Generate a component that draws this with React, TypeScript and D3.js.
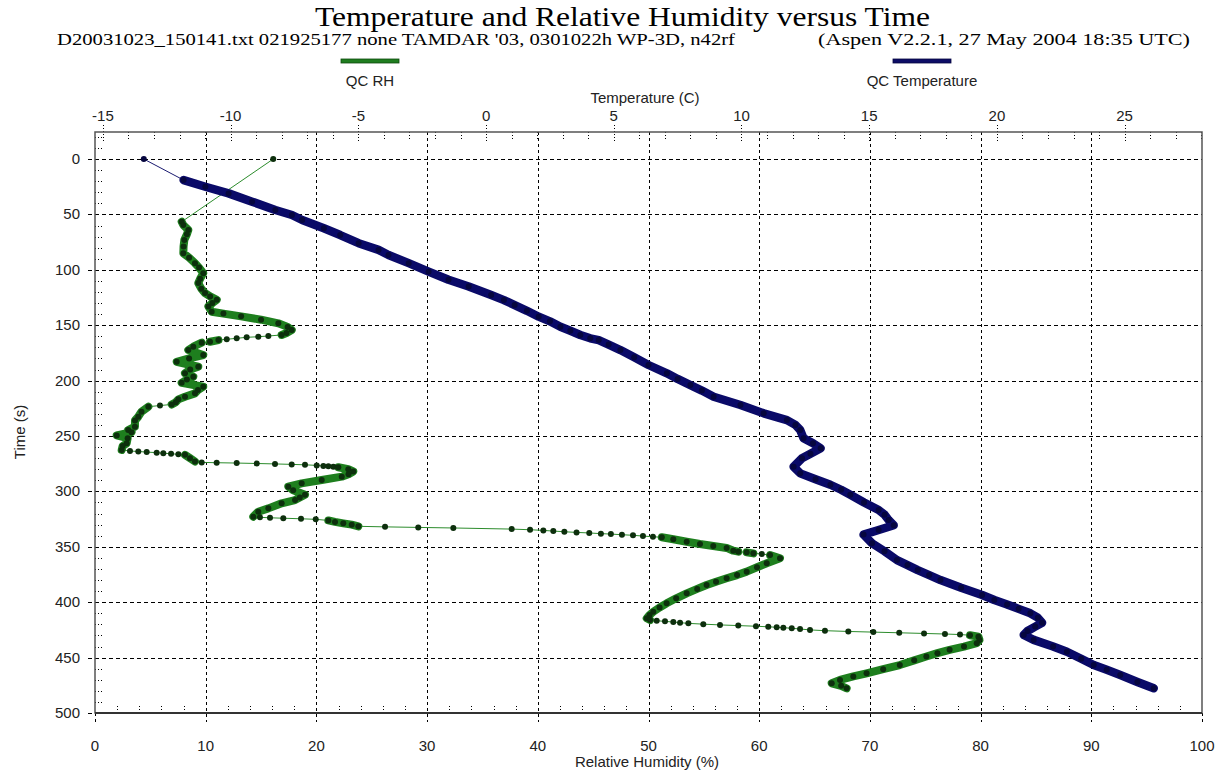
import React, { useEffect, useRef } from 'react';
import * as d3 from 'd3';

const timeTicks = [0, 50, 100, 150, 200, 250, 300, 350, 400, 450, 500];
const rhTicks = [0, 10, 20, 30, 40, 50, 60, 70, 80, 90, 100];
const tempTicks = [-15, -10, -5, 0, 5, 10, 15, 20, 25];

// [time (s), temperature (C)]
const temperature: [number, number][] = [
  [0, -13.4], [19, -11.84], [25, -10.99], [31, -10.08], [38.5, -9.16], [46, -8.25],
  [50.5, -7.6], [55, -7.2], [62.5, -6.35], [68.6, -5.71], [76, -4.99], [82, -4.21],
  [86.6, -3.82], [94, -3.03], [101.7, -2.25], [109, -1.47], [115, -0.68], [122.7, 0.2],
  [127.3, 0.7], [131.8, 1.12], [137, 1.6], [142.3, 2.06], [146.5, 2.5], [151.4, 2.91],
  [155, 3.3], [158.8, 3.69], [161.8, 4.08], [163.4, 4.41], [167.5, 4.8], [172.4, 5.26],
  [179, 5.8], [185.9, 6.36], [193.4, 7.08], [198.5, 7.5], [204, 8.0], [209, 8.45],
  [214.5, 8.91], [222, 9.96], [229.5, 10.87], [235.6, 11.78], [240, 12.11], [244.6, 12.3],
  [252, 12.43], [256.5, 12.8], [261, 13.1], [266, 12.7], [270, 12.37], [277.7, 12.04],
  [283.7, 12.3], [289, 12.9], [294, 13.48], [298.5, 13.9], [303, 14.26], [310, 14.8],
  [316.8, 15.37], [321, 15.6], [325.8, 15.76], [330.5, 15.96], [334.8, 15.37], [339, 14.78],
  [346.8, 15.11], [354, 15.6], [362, 16.09], [366.5, 16.5], [371, 16.9], [375.5, 17.35],
  [380, 17.79], [387, 18.6], [393.5, 19.42], [398, 19.9], [402, 20.4], [406, 20.85],
  [410, 21.31], [414, 21.6], [418.5, 21.77], [422, 21.5], [426, 21.2], [429.6, 21.05],
  [434, 21.44], [440, 22.2], [444.7, 22.74], [451, 23.3], [456.7, 23.79], [461, 24.3],
  [465.7, 24.83], [472, 25.5], [477.7, 26.14],
];

// [time (s), relative humidity (%)]
const humidity: [number, number][] = [
  [0, 16.1], [56.6, 7.83], [59.6, 7.98], [64, 8.43], [68, 8.3], [73, 8.07], [79, 8.0],
  [85, 7.98], [89, 8.5], [94, 9.03], [98, 9.4], [103, 9.78], [108, 9.5], [112, 9.33],
  [117, 9.6], [121, 9.94], [124, 10.4], [127, 11.0], [130, 10.6], [133, 10.24], [137.8, 10.54],
  [139.5, 11.6], [142, 13.2], [145, 15.0], [148.3, 16.56], [151.5, 17.4], [154.3, 17.77],
  [157, 17.3], [158.8, 16.86],
  [159.7, 15.66], [160.4, 14.75], [160.9, 13.7], [161.8, 12.8], [162.7, 11.9], [163.4, 11.15],
  [164.9, 10.39], [165.8, 9.64],
  [169.4, 8.88], [172.4, 8.43], [176.9, 9.78], [180, 8.5], [183, 7.38], [187.5, 9.33],
  [190, 8.6], [193.4, 8.13], [196.5, 8.88], [199, 8.3], [202, 7.83], [205.5, 9.78],
  [208.5, 9.3], [211.5, 9.03], [214.5, 8.13], [216.9, 7.53], [219.5, 7.3],
  [221.5, 6.93], [222.5, 5.87], [223.5, 4.82],
  [228, 4.2], [232.6, 3.91], [236, 3.61], [241.6, 3.61], [244.6, 3.0], [246.5, 3.3],
  [249.5, 1.96], [252, 2.95], [256.6, 2.86], [259, 2.5], [262.6, 2.41],
  [263.5, 3.16], [264, 3.91], [264.5, 4.67], [265, 5.57], [265.5, 6.17], [266, 6.87],
  [266.5, 7.53], [267, 8.13],
  [270, 8.58], [273, 9.03], [273.8, 9.64],
  [274.1, 10.99], [274.4, 12.8], [274.8, 14.61], [275.2, 16.26], [275.6, 17.77], [276, 18.97],
  [276.5, 20.03], [277, 20.63], [277.4, 21.08], [277.8, 21.53], [278.2, 21.98],
  [280, 22.88], [282, 23.33], [284.5, 22.9], [286.7, 22.29], [289.7, 20.48], [292.7, 18.67],
  [295.7, 17.46], [299, 17.9], [303, 18.97], [305.5, 18.5], [307.8, 18.07], [310.7, 16.86],
  [315.3, 15.66], [318.3, 14.75], [322.8, 14.3],
  [323.4, 14.9], [323.8, 15.81], [324.2, 17.01], [324.7, 18.61], [325.2, 19.94],
  [326.2, 21.08], [327.5, 21.68], [328.8, 22.43], [330, 23.19], [331.5, 23.79],
  [332, 26.2], [332.5, 29.2], [333, 32.37], [334, 37.64], [334.6, 39.3], [335.2, 40.5],
  [335.8, 41.4], [336.4, 42.4], [337, 43.5], [337.5, 44.65], [338.1, 45.7], [338.5, 46.6],
  [339.1, 47.6], [339.6, 48.6], [340.3, 49.5], [340.9, 50.4], [341.4, 51.2],
  [343.2, 52.24], [345.4, 53.45], [347.5, 54.65], [349.3, 55.85], [351, 57.06], [353.5, 57.66],
  [354.4, 58.11], [355, 58.87], [355.9, 59.47], [356.5, 60.23],
  [357.4, 60.98], [360.4, 61.88], [364.9, 60.68], [368.5, 59.8], [372.4, 58.87], [375.5, 58.0],
  [378.4, 57.06], [381.5, 56.1], [384.5, 55.25], [388, 54.4], [392, 53.45], [396.5, 52.5],
  [401, 51.64], [404.8, 51.0], [408.6, 50.43], [411.5, 50.1], [414.5, 49.84],
  [416.1, 50.14], [416.7, 50.74], [417.3, 51.49], [417.9, 52.24], [418.5, 52.85], [419.1, 53.6],
  [419.8, 54.95], [420.5, 56.46], [421.1, 58.11], [421.7, 59.71], [422.2, 60.82], [422.6, 61.58],
  [423, 62.18], [423.5, 62.94], [424.2, 63.69], [425, 64.59], [425.7, 65.94], [426.4, 68.05],
  [427, 70.31], [427.6, 72.65], [428.2, 74.89], [428.7, 76.78], [429.2, 78.14], [429.8, 79.04],
  [431.1, 79.8], [434, 79.9], [437, 79.65], [440, 78.5], [443, 77.2], [446, 76.1], [449, 75.1],
  [452.5, 74.0], [456.7, 72.7], [460.5, 71.2], [464.2, 69.7], [467, 68.5], [470.2, 67.3],
  [473.2, 66.55], [475.5, 67.4], [477.7, 67.9],
];

export default function App() {
  const svgRef = useRef<SVGSVGElement>(null);

  useEffect(() => {
    if (!svgRef.current) return;
    const W = 1224;
    const H = 771;
    const left = 95, right = 1202, top = 132, bottom = 713;
    const sans = 'Liberation Sans, Arial, sans-serif';
    const serif = 'Liberation Serif, Times New Roman, serif';
    const textCol = '#222';

    const svg = d3.select(svgRef.current);
    svg.selectAll('*').remove();
    svg.append('rect').attr('width', W).attr('height', H).attr('fill', '#fff');

    const y = d3.scaleLinear().domain([-24.4, 500]).range([top, bottom]);
    const xRH = d3.scaleLinear().domain([0, 100]).range([left, right]);
    const xT = d3.scaleLinear().domain([-15.31, 28.03]).range([left, right]);

    // titles
    svg.append('text')
      .attr('x', 315).attr('y', 26)
      .attr('textLength', 615).attr('lengthAdjust', 'spacingAndGlyphs')
      .attr('font-family', serif).attr('font-size', 27).attr('fill', '#000')
      .text('Temperature and Relative Humidity versus Time');
    svg.append('text')
      .attr('x', 57).attr('y', 45)
      .attr('textLength', 678).attr('lengthAdjust', 'spacingAndGlyphs')
      .attr('font-family', serif).attr('font-size', 17).attr('fill', '#000')
      .text("D20031023_150141.txt 021925177 none TAMDAR '03, 0301022h WP-3D, n42rf");
    svg.append('text')
      .attr('x', 818).attr('y', 45)
      .attr('textLength', 372).attr('lengthAdjust', 'spacingAndGlyphs')
      .attr('font-family', serif).attr('font-size', 17).attr('fill', '#000')
      .text('(Aspen V2.2.1, 27 May 2004  18:35 UTC)');

    // legend
    const legend = [
      { label: 'QC RH', cx: 370, fill: '#1f7d1f', stroke: '#0e4a0e' },
      { label: 'QC Temperature', cx: 922, fill: '#0c0c66', stroke: '#060640' },
    ];
    legend.forEach(l => {
      svg.append('rect')
        .attr('x', l.cx - 29).attr('y', 59).attr('width', 58).attr('height', 4)
        .attr('fill', l.fill).attr('stroke', l.stroke).attr('stroke-width', 0.8);
      svg.append('text')
        .attr('x', l.cx).attr('y', 86).attr('text-anchor', 'middle')
        .attr('font-family', sans).attr('font-size', 15).attr('fill', textCol)
        .text(l.label);
    });

    // grid
    const grid = svg.append('g').attr('stroke', '#000').attr('stroke-width', 1).attr('fill', 'none');
    timeTicks.forEach(t => {
      grid.append('line')
        .attr('x1', left - 7).attr('x2', t === 500 ? left : right)
        .attr('y1', Math.round(y(t)) + 0.5).attr('y2', Math.round(y(t)) + 0.5)
        .attr('stroke-dasharray', '4,3');
    });
    rhTicks.forEach(v => {
      const inner = v > 0 && v < 100;
      grid.append('line')
        .attr('x1', Math.round(xRH(v)) + 0.5).attr('x2', Math.round(xRH(v)) + 0.5)
        .attr('y1', inner ? top : bottom).attr('y2', bottom + 9)
        .attr('stroke-dasharray', '3,3');
    });

    // minor ticks
    const minor = svg.append('g').attr('stroke', '#000').attr('stroke-width', 1).attr('stroke-dasharray', '1,2');
    d3.range(-20, 500, 10).filter(t => t % 50 !== 0).forEach(t => {
      minor.append('line').attr('x1', left).attr('x2', left + 7)
        .attr('y1', Math.round(y(t)) + 0.5).attr('y2', Math.round(y(t)) + 0.5);
    });
    d3.range(2, 100, 2).filter(v => v % 10 !== 0).forEach(v => {
      minor.append('line').attr('y1', bottom).attr('y2', bottom - 8)
        .attr('x1', Math.round(xRH(v)) + 0.5).attr('x2', Math.round(xRH(v)) + 0.5);
    });
    d3.range(-15, 29, 1).forEach(v => {
      const major = v % 5 === 0;
      minor.append('line').attr('y1', major ? top - 7 : top).attr('y2', top + 9)
        .attr('x1', Math.round(xT(v)) + 0.5).attr('x2', Math.round(xT(v)) + 0.5);
    });

    // frame
    svg.append('rect')
      .attr('x', left).attr('y', top).attr('width', right - left).attr('height', bottom - top)
      .attr('fill', 'none').attr('stroke', '#555').attr('stroke-width', 1.5);
    svg.append('line').attr('x1', left).attr('x2', right).attr('y1', bottom).attr('y2', bottom)
      .attr('stroke', '#333').attr('stroke-width', 2);

    // tick labels
    const labels = svg.append('g').attr('font-family', sans).attr('font-size', 15).attr('fill', textCol);
    timeTicks.forEach(t => {
      labels.append('text').attr('x', 80).attr('y', y(t) + 5).attr('text-anchor', 'end').text(String(t));
    });
    rhTicks.forEach(v => {
      labels.append('text').attr('x', xRH(v)).attr('y', 751).attr('text-anchor', 'middle').text(String(v));
    });
    tempTicks.forEach(v => {
      labels.append('text').attr('x', xT(v)).attr('y', 121).attr('text-anchor', 'middle').text(String(v));
    });
    labels.append('text').attr('x', 645).attr('y', 103).attr('text-anchor', 'middle').text('Temperature (C)');
    labels.append('text').attr('x', 647).attr('y', 767).attr('text-anchor', 'middle').text('Relative Humidity (%)');
    labels.append('text').attr('transform', 'translate(25,432) rotate(-90)').attr('text-anchor', 'middle').text('Time (s)');

    // series
    const drawSeries = (
      data: [number, number][],
      x: d3.ScaleLinear<number, number>,
      band: string, line: string, marker: string, bandWidth: number,
    ) => {
      const g = svg.append('g');
      const pts = data.map(([t, v]) => [x(v), y(t)] as [number, number]);
      const lineGen = d3.line().curve(d3.curveLinear);
      g.append('path').attr('d', lineGen(pts) || '').attr('fill', 'none')
        .attr('stroke', line).attr('stroke-width', 1);
      // slow-moving stretches of closely spaced samples render as a solid band
      const runs: [number, number][][] = [];
      let cur: [number, number][] | null = null;
      for (let i = 1; i < data.length; i++) {
        const dt = data[i][0] - data[i - 1][0];
        const dist = Math.hypot(pts[i][0] - pts[i - 1][0], pts[i][1] - pts[i - 1][1]);
        const dense = dt <= 10 && dist / dt < 8;
        if (dense) {
          if (!cur) cur = [pts[i - 1]];
          cur.push(pts[i]);
        } else if (cur) {
          runs.push(cur);
          cur = null;
        }
      }
      if (cur) runs.push(cur);
      runs.forEach(r => {
        g.append('path').attr('d', lineGen(r) || '').attr('fill', 'none')
          .attr('stroke', band).attr('stroke-width', bandWidth)
          .attr('stroke-linejoin', 'round').attr('stroke-linecap', 'round');
      });
      g.selectAll('circle').data(pts).join('circle')
        .attr('cx', d => d[0]).attr('cy', d => d[1]).attr('r', 3)
        .attr('fill', marker);
    };

    drawSeries(humidity, xRH, '#1e7f1e', '#2c8c2c', '#0d2f0d', 8);
    drawSeries(temperature, xT, '#0a0a68', '#1a1a70', '#06063e', 8.5);
  }, []);

  return (
    <svg ref={svgRef} width={1224} height={771}
      style={{ position: 'absolute', left: 0, top: 0, display: 'block' }} />
  );
}
